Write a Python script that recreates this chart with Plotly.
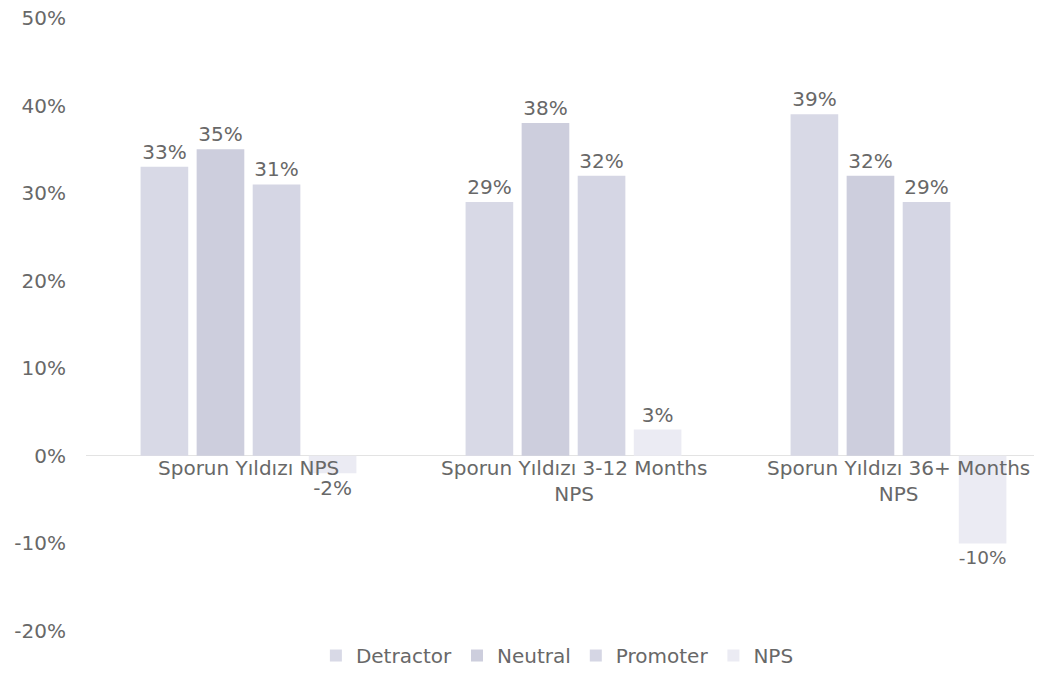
import plotly.graph_objects as go

categories = ["Sporun Yıldızı NPS", "Sporun Yıldızı 3-12 Months<br>NPS", "Sporun Yıldızı 36+ Months<br>NPS"]
detractor = [0.33, 0.29, 0.39]
neutral = [0.35, 0.38, 0.32]
promoter = [0.31, 0.32, 0.29]
nps = [-0.02, 0.03, -0.10]
series_names = ["Detractor", "Neutral", "Promoter", "NPS"]
series_values = [detractor, neutral, promoter, nps]
colors = ["#d8d9e6", "#cdcedd", "#d5d6e4", "#ebebf3"]
tick_vals = [-0.2, -0.1, 0, 0.1, 0.2, 0.3, 0.4, 0.5]
tick_text = ["-20%", "-10%", "0%", "10%", "20%", "30%", "40%", "50%"]

FONT = "DejaVu Sans"
GREY = "#686868"

fig = go.Figure()
for name, vals, col in zip(series_names, series_values, colors):
    fig.add_trace(go.Bar(
        name=name, x=list(range(len(categories))), y=vals,
        marker=dict(color=col, line=dict(width=0)),
        texttemplate="%{y:.0%}", textposition="outside",
        textfont=dict(family=FONT, size=20, color=GREY),
        cliponaxis=False,
    ))

for i, c in enumerate(categories):
    fig.add_annotation(x=i, y=0, xref="x", yref="y", text=c, showarrow=False,
                       yanchor="top", yshift=2,
                       font=dict(family=FONT, size=20, color=GREY))

fig.update_layout(
    template="none",
    width=1042, height=698,
    paper_bgcolor="white", plot_bgcolor="white",
    margin=dict(l=78, r=2, t=10, b=75, autoexpand=False),
    barmode="group", bargap=0.31, bargroupgap=0.15,
    font=dict(family=FONT, size=20, color=GREY),
    showlegend=True,
    legend=dict(orientation="h", x=0.49, xanchor="center", y=-0.04, yanchor="middle",
                font=dict(family=FONT, size=20, color=GREY), traceorder="normal",
                itemwidth=30, bgcolor="rgba(0,0,0,0)"),
)
fig.update_xaxes(range=[-0.5, 2.46], showticklabels=False, showgrid=False,
                 zeroline=False, showline=False, ticks="", automargin=False)
fig.update_yaxes(range=[-0.2, 0.5], tickvals=tick_vals, ticktext=tick_text,
                 showgrid=False, zeroline=True, zerolinecolor="#e3e3e3", zerolinewidth=1,
                 showline=False, ticks="", ticklabelstandoff=19, automargin=False,
                 ticklabeloverflow="allow",
                 tickfont=dict(family=FONT, size=20, color=GREY))

fig.write_html("out.html")
